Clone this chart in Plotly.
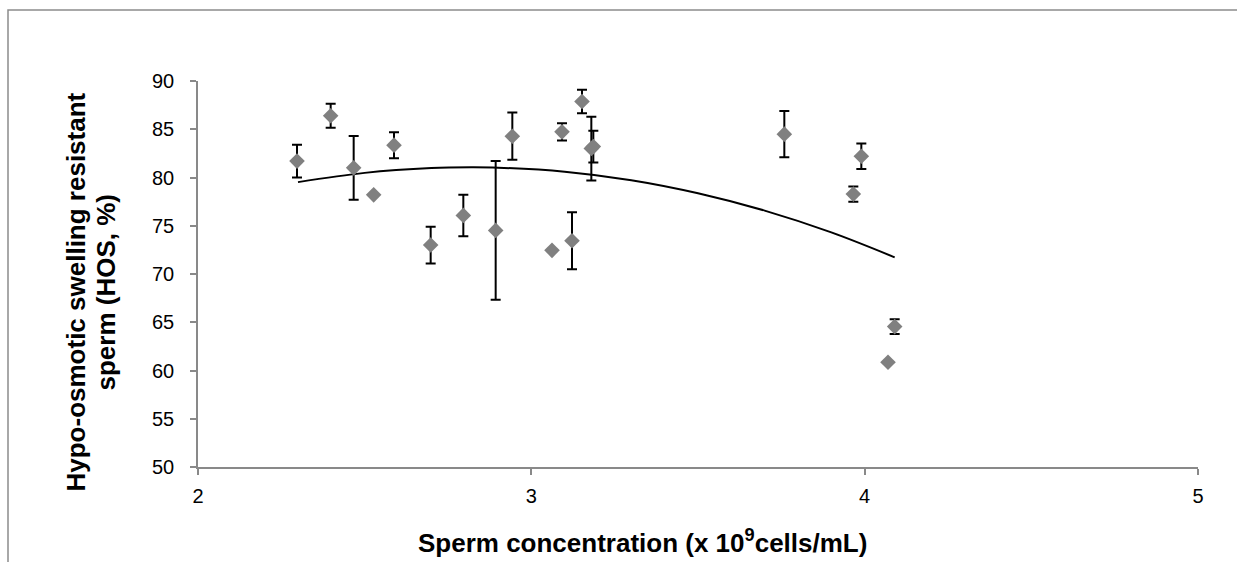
import plotly.graph_objects as go

# Data
conc = [2.297, 2.398, 2.467, 2.527, 2.588, 2.698, 2.796, 2.893, 2.943, 3.062,
        3.092, 3.122, 3.152, 3.180, 3.186, 3.759, 3.966, 3.990, 4.070, 4.090]
hos = [81.7, 86.4, 81.0, 78.2, 83.35, 73.0, 76.07, 74.52, 84.28, 72.45,
       84.73, 73.45, 87.87, 83.0, 83.2, 84.49, 78.28, 82.2, 60.86, 64.55]
hos_err = [1.7, 1.25, 3.3, 0.0, 1.35, 1.9, 2.15, 7.2, 2.45, 0.0,
           0.9, 2.95, 1.22, 3.3, 1.65, 2.4, 0.8, 1.33, 0.0, 0.76]

# Polynomial trendline
trend_x = [2.30, 2.50, 2.70, 2.82, 2.90, 3.10, 3.30, 3.50, 3.70, 3.90, 4.09]
trend_y = [79.52, 80.48, 80.98, 81.06, 81.02, 80.60, 79.72, 78.37, 76.57, 74.31, 71.73]

x_ticks = [2, 3, 4, 5]
y_ticks = [50, 55, 60, 65, 70, 75, 80, 85, 90]

x_title = "Sperm concentration (x 10<sup>9</sup>cells/mL)"
y_title_lines = ["Hypo-osmotic swelling resistant", "sperm (HOS, %)"]

FONT = "Liberation Sans, Arial, sans-serif"
AXIS_GREY = "#898989"

fig = go.Figure()
fig.add_trace(go.Scatter(
    x=trend_x, y=trend_y, mode="lines", line=dict(color="black", width=2, shape="spline"),
    hoverinfo="skip", showlegend=False))
fig.add_trace(go.Scatter(
    x=conc, y=hos, mode="markers",
    marker=dict(symbol="diamond", size=12, color="#808080", line=dict(width=0)),
    error_y=dict(type="data", array=hos_err, visible=True, color="black", thickness=2, width=5),
    showlegend=False))

title_font = dict(size=26, family=FONT, color="black", weight="bold")
annotations = [
    dict(text=x_title, xref="paper", yref="paper",
         x=0.444, y=-0.193, xanchor="center", yanchor="middle", showarrow=False,
         font=title_font),
]
for i, line in enumerate(y_title_lines):
    annotations.append(dict(text=line, xref="paper", yref="paper",
                            x=-0.122 + i * 0.030, y=0.452, xanchor="center", yanchor="middle",
                            showarrow=False, textangle=-90, font=title_font))

fig.update_layout(
    width=1237, height=562,
    margin=dict(l=198, r=39, t=81, b=95),
    paper_bgcolor="white", plot_bgcolor="white",
    font=dict(family=FONT, color="black"),
    xaxis=dict(range=[2, 5], tickvals=x_ticks, ticktext=[str(v) for v in x_ticks],
               showgrid=False, zeroline=False, showline=True, linecolor=AXIS_GREY, linewidth=1.5,
               ticks="outside", ticklen=6, tickcolor=AXIS_GREY, tickwidth=1.5,
               tickfont=dict(size=20, family=FONT, color="black"), ticklabelstandoff=4),
    yaxis=dict(range=[50, 90], tickvals=y_ticks,
               showgrid=False, zeroline=False, showline=True, linecolor=AXIS_GREY, linewidth=1.5,
               ticks="outside", ticklen=6, tickcolor=AXIS_GREY, tickwidth=1.5,
               tickfont=dict(size=20, family=FONT, color="black"), ticklabelstandoff=12),
    shapes=[dict(type="rect", xref="paper", yref="paper",
                 x0=-0.19, x1=1.06, y0=-0.3, y1=1.1837,
                 line=dict(color="#8c8c8c", width=1.5), fillcolor="rgba(0,0,0,0)", layer="below")],
    annotations=annotations,
)

fig.write_html("out.html")
